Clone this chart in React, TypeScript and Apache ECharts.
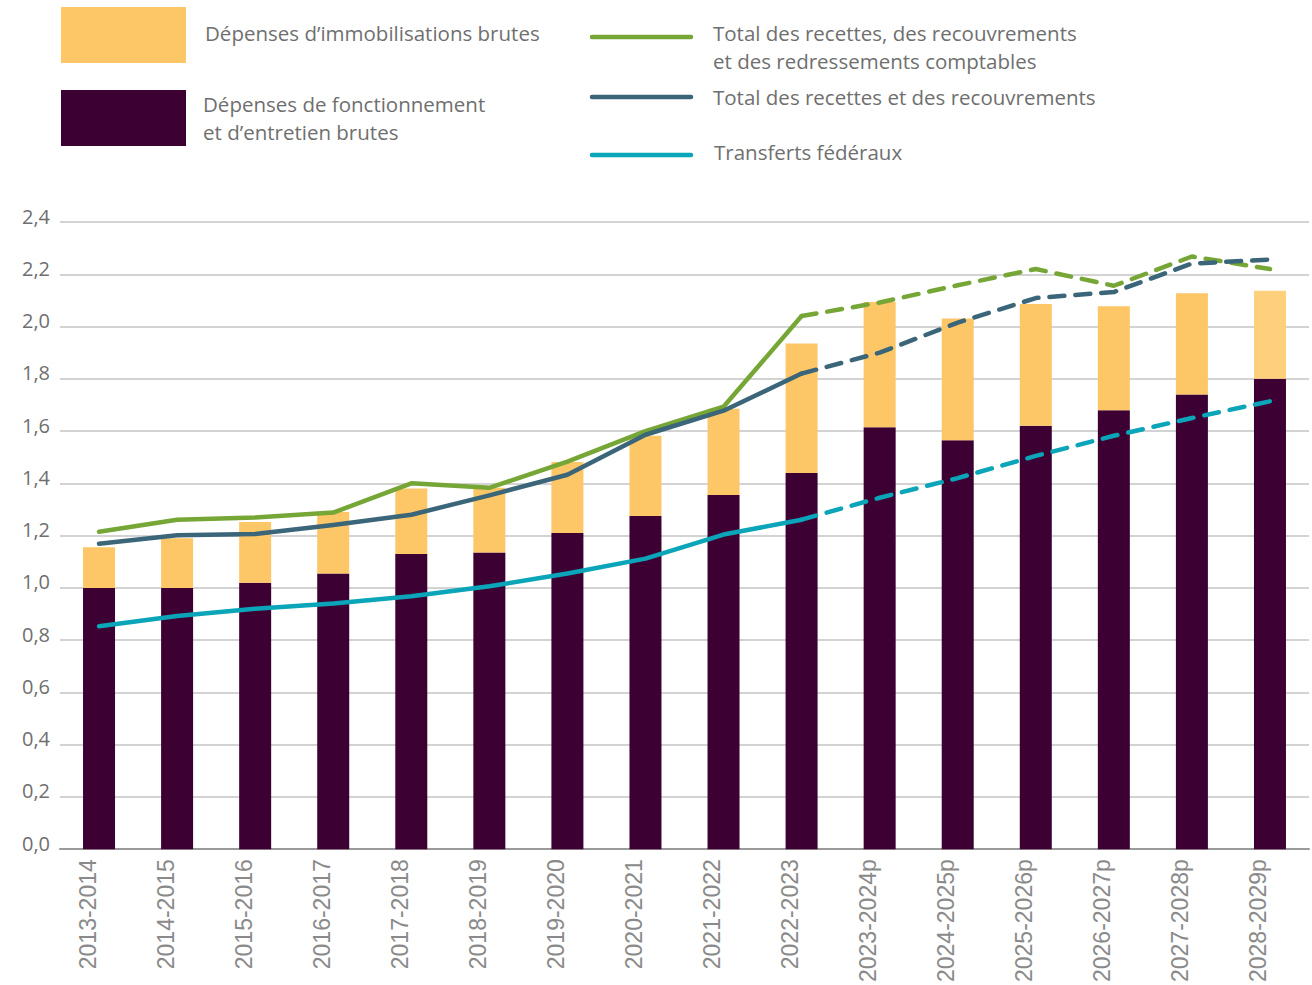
import React, { useEffect, useRef } from "react";
import * as echarts from "echarts";

const categories = [
  "2013-2014", "2014-2015", "2015-2016", "2016-2017", "2017-2018", "2018-2019",
  "2019-2020", "2020-2021", "2021-2022", "2022-2023", "2023-2024p", "2024-2025p",
  "2025-2026p", "2026-2027p", "2027-2028p", "2028-2029p",
];

// Dépenses de fonctionnement et d'entretien brutes
const operating = [1.0, 1.0, 1.02, 1.055, 1.13, 1.135, 1.21, 1.275, 1.355, 1.44, 1.615, 1.565, 1.62, 1.68, 1.74, 1.8];
// Dépenses d'immobilisations brutes
const capital = [0.155, 0.19, 0.232, 0.235, 0.25, 0.248, 0.272, 0.307, 0.33, 0.495, 0.479, 0.466, 0.466, 0.398, 0.387, 0.337];
// Total des recettes, des recouvrements et des redressements comptables
const totalWithAdj = [1.215, 1.261, 1.269, 1.288, 1.4, 1.383, 1.483, 1.6, 1.693, 2.04, 2.092, 2.158, 2.22, 2.156, 2.268, 2.22];
// Total des recettes et des recouvrements
const totalRevenue = [1.169, 1.201, 1.206, 1.241, 1.28, 1.354, 1.433, 1.586, 1.678, 1.82, 1.9, 2.015, 2.109, 2.132, 2.241, 2.256];
// Transferts fédéraux
const federal = [0.853, 0.892, 0.92, 0.94, 0.968, 1.006, 1.055, 1.112, 1.204, 1.261, 1.345, 1.42, 1.505, 1.582, 1.65, 1.714];

const lastActual = 9; // 2022-2023: lines become dashed afterwards
const yTicks = { min: 0, max: 2.4, interval: 0.2 };

const C_GREEN = "#76a636";
const C_BLUE = "#3b6679";
const C_TEAL = "#0aa5b8";
const C_DARK = "#3c0032";
const C_YELLOW = "#fdc666";
const C_YELLOW_LAST = "#fed07b";
const TXT = "#6f6f6f";
const LEG_FONT = "'Open Sans', sans-serif";
const LEG_SIZE = 20.5;

const solidPart = (arr: number[]) => arr.map((v, i) => (i <= lastActual ? v : null));
const dashedPart = (arr: number[]) => arr.map((v, i) => (i >= lastActual ? v : null));

const lineSeries = (name: string, arr: number[], color: string) => [
  {
    name,
    type: "line",
    data: solidPart(arr),
    symbol: "none",
    z: 5,
    lineStyle: { color, width: 4.5, cap: "round", join: "round" },
  },
  {
    name: name + " (p)",
    type: "line",
    data: dashedPart(arr),
    symbol: "none",
    z: 5,
    lineStyle: { color, width: 4.5, type: [15, 11], cap: "round", join: "round" },
  },
];

const legText = (text: string, x: number, y: number) => ({
  type: "text",
  x,
  y,
  style: { text, fill: TXT, font: `${LEG_SIZE}px ${LEG_FONT}`, verticalAlign: "middle", lineHeight: 22 },
});

export default function App() {
  const ref = useRef<HTMLDivElement>(null);
  useEffect(() => {
    if (!ref.current) return;
    const chart = echarts.init(ref.current, null, { renderer: "svg" });
    chart.setOption({
      animation: false,
      backgroundColor: "#ffffff",
      grid: { left: 60, right: 3, top: 222, bottom: 135, containLabel: false },
      xAxis: {
        type: "category",
        data: categories,
        axisTick: { show: false },
        axisLine: { lineStyle: { color: "#9a9a9a", width: 2 } },
        axisLabel: {
          rotate: 90,
          interval: 0,
          margin: 10,
          verticalAlign: "bottom",
          color: "#8a8a8a",
          fontSize: 23,
          fontFamily: "'Liberation Sans', Arial, sans-serif",
        },
      },
      yAxis: {
        type: "value",
        min: yTicks.min,
        max: yTicks.max,
        interval: yTicks.interval,
        axisLine: { show: false },
        axisTick: { show: false },
        splitLine: { lineStyle: { color: "#c4c4c4", width: 1.5 } },
        axisLabel: {
          margin: 10,
          color: TXT,
          fontSize: 20,
          fontFamily: LEG_FONT,
          verticalAlign: "bottom",
          lineHeight: 12,
          formatter: (v: number) => v.toFixed(1).replace(".", ","),
        },
      },
      series: [
        {
          name: "Dépenses de fonctionnement et d’entretien brutes",
          type: "bar",
          stack: "dep",
          barWidth: 32,
          data: operating,
          itemStyle: { color: C_DARK },
        },
        {
          name: "Dépenses d’immobilisations brutes",
          type: "bar",
          stack: "dep",
          barWidth: 32,
          data: capital.map((v, i) =>
            i === capital.length - 1 ? { value: v, itemStyle: { color: C_YELLOW_LAST } } : v
          ),
          itemStyle: { color: C_YELLOW },
        },
        ...lineSeries("Transferts fédéraux", federal, C_TEAL),
        ...lineSeries("Total des recettes, des recouvrements et des redressements comptables", totalWithAdj, C_GREEN),
        ...lineSeries("Total des recettes et des recouvrements", totalRevenue, C_BLUE),
      ],
      graphic: [
        { type: "rect", left: 61, top: 7, shape: { width: 125, height: 56 }, style: { fill: C_YELLOW } },
        { type: "rect", left: 61, top: 90, shape: { width: 125, height: 56 }, style: { fill: C_DARK } },
        legText("Dépenses d’immobilisations brutes", 205, 33),
        legText("Dépenses de fonctionnement", 203, 104),
        legText("et d’entretien brutes", 203, 132),
        { type: "line", shape: { x1: 592, y1: 37, x2: 691, y2: 37 }, style: { stroke: C_GREEN, lineWidth: 4.5, lineCap: "round" } },
        { type: "line", shape: { x1: 592, y1: 97, x2: 691, y2: 97 }, style: { stroke: C_BLUE, lineWidth: 4.5, lineCap: "round" } },
        { type: "line", shape: { x1: 592, y1: 155, x2: 691, y2: 155 }, style: { stroke: C_TEAL, lineWidth: 4.5, lineCap: "round" } },
        legText("Total des recettes, des recouvrements", 713, 33),
        legText("et des redressements comptables", 713, 61),
        legText("Total des recettes et des recouvrements", 713, 97),
        legText("Transferts fédéraux", 714, 152),
      ],
    });
    return () => chart.dispose();
  }, []);
  return <div ref={ref} style={{ width: 1312, height: 985, position: "absolute", left: 0, top: 0 }} />;
}
